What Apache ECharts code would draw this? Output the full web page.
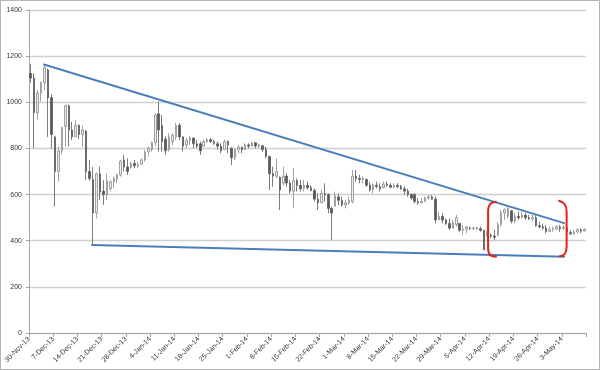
<!DOCTYPE html>
<html><head><meta charset="utf-8">
<script src="https://cdn.jsdelivr.net/npm/echarts@6/dist/echarts.min.js"></script>
<style>html,body{margin:0;padding:0;background:#fff}#c{width:600px;height:370px}</style>
</head><body><div id="c"></div>
<script>
// weekly tick labels, one per 7 days starting 30-Nov-13 (day 0)
const tickLabels = ['30-Nov-13','7-Dec-13','14-Dec-13','21-Dec-13','28-Dec-13','4-Jan-14','11-Jan-14','18-Jan-14','25-Jan-14','1-Feb-14','8-Feb-14','15-Feb-14','22-Feb-14','1-Mar-14','8-Mar-14','15-Mar-14','22-Mar-14','29-Mar-14','5-Apr-14','12-Apr-14','19-Apr-14','26-Apr-14','3-May-14'];
const yTicks = [0,200,400,600,800,1000,1200,1400];
// daily OHLC, day 0 = 30-Nov-13
const open = [1125,1105,955,1040,1085,1140,1020,850,700,790,
895,985,880,850,900,860,875,700,665,520,
690,615,600,625,655,665,685,750,720,718,
735,725,732,750,785,795,825,950,900,840,
795,830,850,900,850,815,835,845,820,820,
810,830,838,830,820,810,795,830,800,760,
795,805,795,815,810,825,810,812,795,765,
690,680,675,650,680,650,615,660,640,625,
640,630,618,580,565,605,600,540,550,590,
575,555,565,570,680,670,665,665,640,620,
640,635,630,645,640,632,640,635,625,615,
600,600,570,565,570,585,590,580,490,505,
490,475,455,470,475,445,450,455,452,450,
452,445,420,425,420,425,470,520,505,530,
485,505,500,510,500,495,500,465,460,455,
440,448,450,460,452,455,435,430,438,448,
442];
const close = [1105,955,1040,1085,1150,1020,860,700,790,890,
985,880,850,900,860,880,700,670,520,690,
610,600,660,655,670,685,745,720,700,735,
725,730,750,785,800,825,945,880,830,790,
850,858,900,850,810,835,845,820,810,790,
830,838,830,822,810,790,830,815,760,795,
805,795,815,810,825,810,815,795,765,690,
680,700,620,680,650,615,660,640,625,640,
630,618,580,565,605,600,540,520,595,575,
555,565,575,680,670,665,670,640,620,640,
635,625,645,640,632,640,635,625,615,600,
585,570,565,570,585,590,580,490,505,490,
475,455,478,500,445,450,460,452,455,455,
445,362,440,420,415,470,520,535,540,485,
505,500,510,500,495,500,465,460,455,440,
448,452,460,452,458,438,430,440,448,442,
450];
const high = [1165,1126,1053,1090,1160,1145,1035,855,808,895,
990,990,916,923,905,900,880,750,720,695,
721,663,692,663,678,692,750,772,757,743,
750,743,757,793,808,830,953,1003,945,852,
866,866,910,910,852,844,852,848,837,830,
837,844,846,837,830,822,837,835,805,800,
815,808,822,822,829,826,822,815,808,768,
721,757,678,721,692,663,714,670,663,663,
656,640,627,605,620,649,605,548,613,605,
591,577,591,707,707,685,678,670,656,649,
656,649,656,656,649,649,649,642,635,625,
606,606,584,584,591,598,598,591,526,519,
497,497,490,512,476,468,461,461,461,461,
461,447,447,432,447,481,533,540,548,533,
519,526,526,519,512,512,512,483,475,468,
461,461,468,468,468,458,447,447,454,454,
454];
const low = [1085,801,925,1003,1050,850,800,548,656,775,
808,808,837,850,840,808,663,660,381,497,
577,555,577,613,627,649,678,700,685,712,
714,714,729,743,765,786,810,786,786,772,
786,815,837,837,786,801,815,801,801,772,
808,823,823,815,795,779,793,779,728,750,
779,779,793,800,808,800,800,786,757,620,
634,670,533,640,634,605,540,613,613,613,
620,613,569,533,562,569,519,403,548,555,
548,540,555,562,656,649,649,634,613,605,
627,613,634,634,627,627,627,620,600,591,
577,562,555,562,569,577,577,476,490,476,
468,447,454,461,439,425,432,447,447,447,
439,358,418,410,403,418,460,490,497,475,
475,490,497,490,490,483,461,454,447,432,
439,439,447,439,447,432,425,425,432,432,
439];
// annotation lines, [day, price]
const upperTrend = [[4.1,1165],[154.9,475]];
const lowerTrend = [[18.0,381],[154.9,330]];
const bracketLeft = [[135.2,569],[133.3,559],[132.7,525],[132.7,368],[133.3,338],[135.2,331]];
const bracketRight = [[153.0,574],[154.8,559],[155.4,525],[155.4,373],[154.8,342],[153.2,332]];

const candles = open.map((o,i)=>[i+0.5, o, close[i], low[i], high[i]]);
const chart = echarts.init(document.getElementById('c'), null, {renderer:'canvas'});
const font = 'Liberation Sans';
chart.setOption({
  animation:false,
  backgroundColor:'#ffffff',
  graphic:[{type:'rect', shape:{x:0.5,y:0.5,width:599,height:369}, style:{fill:'none', stroke:'#b4b4b4', lineWidth:1}, silent:true}],
  grid:{left:29, right:14, top:10, bottom:37, containLabel:false},
  xAxis:{type:'value', min:0, max:tickLabels.length*7, interval:7,
    axisLine:{show:true, lineStyle:{color:'#a6a6a6', width:1}},
    axisTick:{show:true, length:4, lineStyle:{color:'#a6a6a6'}},
    splitLine:{show:false},
    axisLabel:{rotate:45, fontSize:7, fontFamily:font, color:'#333', margin:5, showMaxLabel:true,
      formatter:v=>{const k=Math.round(v/7); return k<tickLabels.length ? tickLabels[k] : '';}}
  },
  yAxis:{type:'value', min:yTicks[0], max:yTicks[yTicks.length-1], interval:200,
    axisLine:{show:true, lineStyle:{color:'#a6a6a6', width:1}},
    axisTick:{show:true, length:3, lineStyle:{color:'#a6a6a6'}},
    splitLine:{show:true, lineStyle:{color:'#cfcfcf', width:1.3}},
    axisLabel:{fontSize:7, fontFamily:font, color:'#333', margin:7, formatter:v=>String(v)}
  },
  series:[
    {type:'candlestick', data:candles, encode:{x:0, y:[1,2,3,4]}, barWidth:2,
      itemStyle:{color:'#ececec', color0:'#5a5a5a', borderColor:'#8c8c8c', borderColor0:'#5a5a5a', borderWidth:0.8}},
    {type:'line', data:upperTrend, symbol:'none', lineStyle:{color:'#4a7ebb', width:2}, z:5},
    {type:'line', data:lowerTrend, symbol:'none', lineStyle:{color:'#4a7ebb', width:2}, z:5},
    {type:'line', data:bracketLeft, symbol:'none', smooth:0.4, lineStyle:{color:'#e3201b', width:2}, z:6},
    {type:'line', data:bracketRight, symbol:'none', smooth:0.4, lineStyle:{color:'#e3201b', width:2}, z:6}
  ]
});
</script></body></html>
